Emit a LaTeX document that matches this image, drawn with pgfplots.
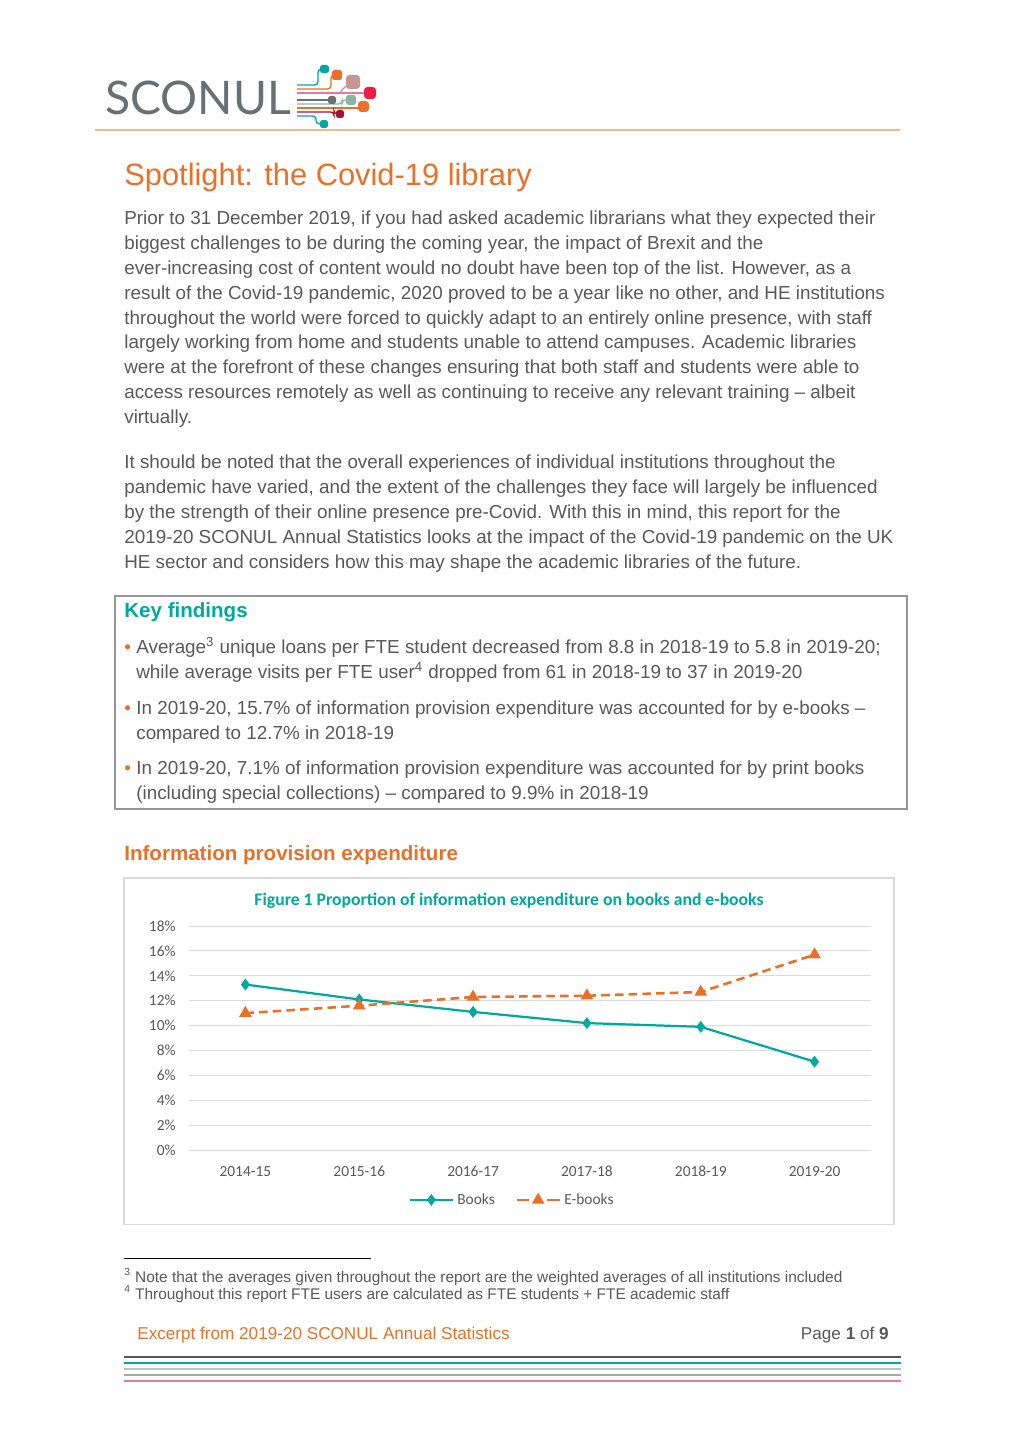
\documentclass[border=0pt]{standalone}
\usepackage{fontspec}
\setmainfont{Liberation Sans}
\newfontfamily\carlito{Carlito}
\newfontfamily\lato{Lato}
\usepackage{pgfplots}
\pgfplotsset{compat=1.18}
\pgfplotsset{ebookleg/.style={legend image code/.code={\draw[##1,solid,mark=none] (0cm,0cm)--(0.25cm,0cm); \draw[##1,solid,mark=none] (0.63cm,0cm)--(0.88cm,0cm); \draw[##1] plot coordinates {(0.44cm,0cm)};}}}
\definecolor{tealc}{RGB}{0,169,157}
\definecolor{orng}{RGB}{232,112,40}
\definecolor{bodygray}{RGB}{89,89,89}
\definecolor{gridgray}{RGB}{217,217,217}
\definecolor{logogray}{RGB}{108,111,114}
\definecolor{mauve}{RGB}{200,150,145}
\definecolor{redc}{RGB}{232,30,72}
\definecolor{sage}{RGB}{140,180,160}
\definecolor{darkred}{RGB}{160,20,50}
\definecolor{pinkc}{RGB}{232,120,150}
\definecolor{rulegray}{RGB}{150,150,150}
\newcommand\bl[3]{\node[anchor=base west,inner sep=0pt,text=bodygray,font=\fontsize{11}{13}\selectfont] at (#1,#2) {#3};}
\begin{document}
\begin{tikzpicture}[x=0.5836pt,y=-0.5836pt]
\useasboundingbox (0,0) rectangle (1020,1442);
\fill[white] (0,0) rectangle (1020,1442);
% logo
\node[anchor=base west,inner sep=0pt,font=\lato\fontsize{27}{30}\selectfont,text=logogray] at (105,115) {SCONUL};
\begin{scope}[line width=0.8pt,rounded corners=2pt]
\draw[tealc] (297,85)--(318,85)--(318,69)--(322,69);
\draw[orng] (297,89)--(331,89)--(331,75)--(334,75);
\draw[pinkc] (297,93)--(366,93);
\draw[mauve] (340,93)--(345,86)--(348,86);
\draw[logogray] (297,100)--(328,100);
\draw[sage] (297,104)--(342,104)--(342,100)--(346,100);
\draw[orng] (297,108)--(360,108);
\draw[darkred] (297,112)--(334,112)--(334,114)--(337,114);
\draw[tealc] (297,116)--(316,116)--(316,124)--(320,124);
\end{scope}
\fill[tealc,rounded corners=1.5pt] (320,65) rectangle (329,73);
\fill[orng,rounded corners=1.5pt] (332,70) rectangle (342,80);
\fill[mauve,rounded corners=2pt] (346,75) rectangle (360,89);
\fill[redc,rounded corners=2pt] (364,87) rectangle (376,99);
\fill[logogray,rounded corners=1.5pt] (328,96) rectangle (336,104);
\fill[sage,rounded corners=1.5pt] (346,95) rectangle (356,105);
\fill[orng,rounded corners=2pt] (358,101) rectangle (369,112);
\fill[darkred,rounded corners=1.5pt] (336,110) rectangle (344,118);
\fill[tealc,rounded corners=1.5pt] (320,120) rectangle (328,128);
\draw[orng!50,line width=0.6pt] (95,130)--(900,130);
% heading
\node[anchor=base west,inner sep=0pt,text=orng,font=\fontsize{18}{20}\selectfont] at (124,185) {Spotlight: the Covid-19 library};
% paragraph 1
\bl{124}{224}{Prior to 31 December 2019, if you had asked academic librarians what they expected their}
\bl{124}{249}{biggest challenges to be during the coming year, the impact of Brexit and the}
\bl{124}{274}{ever-increasing cost of content would no doubt have been top of the list. However, as a}
\bl{124}{299}{result of the Covid-19 pandemic, 2020 proved to be a year like no other, and HE institutions}
\bl{124}{324}{throughout the world were forced to quickly adapt to an entirely online presence, with staff}
\bl{124}{348}{largely working from home and students unable to attend campuses. Academic libraries}
\bl{124}{373}{were at the forefront of these changes ensuring that both staff and students were able to}
\bl{124}{398}{access resources remotely as well as continuing to receive any relevant training – albeit}
\bl{124}{423}{virtually.}
% paragraph 2
\bl{124}{468}{It should be noted that the overall experiences of individual institutions throughout the}
\bl{124}{493}{pandemic have varied, and the extent of the challenges they face will largely be influenced}
\bl{124}{518}{by the strength of their online presence pre-Covid. With this in mind, this report for the}
\bl{124}{543}{2019-20 SCONUL Annual Statistics looks at the impact of the Covid-19 pandemic on the UK}
\bl{124}{568}{HE sector and considers how this may shape the academic libraries of the future.}
% key findings box
\draw[rulegray,line width=0.6pt] (115,596) rectangle (907,809);
\node[anchor=base west,inner sep=0pt,text=tealc,font=\bfseries\fontsize{12}{14}\selectfont] at (124,617) {Key findings};
\foreach \yy in {653,714,774} {\node[anchor=base west,inner sep=0pt,text=orng,font=\fontsize{11}{13}\selectfont] at (124,\yy) {•};}
\bl{136}{653}{Average\textsuperscript{3} unique loans per FTE student decreased from 8.8 in 2018-19 to 5.8 in 2019-20;}
\bl{136}{678}{while average visits per FTE user\textsuperscript{4} dropped from 61 in 2018-19 to 37 in 2019-20}
\bl{136}{714}{In 2019-20, 15.7\% of information provision expenditure was accounted for by e-books –}
\bl{136}{739}{compared to 12.7\% in 2018-19}
\bl{136}{774}{In 2019-20, 7.1\% of information provision expenditure was accounted for by print books}
\bl{136}{799}{(including special collections) – compared to 9.9\% in 2018-19}
% section heading
\node[anchor=base west,inner sep=0pt,text=orng,font=\bfseries\fontsize{12}{14}\selectfont] at (124,860) {Information provision expenditure};
% chart frame
\draw[gridgray,line width=0.6pt] (124,878) rectangle (894,1224);
\node[anchor=base,inner sep=0pt,text=tealc,font=\carlito\bfseries\fontsize{10.3}{12}\selectfont] at (509,905) {Figure 1 Proportion of information expenditure on books and e-books};
\coordinate (axorigin) at (188.5,1150);
\begin{axis}[at={(axorigin)},anchor=south west,scale only axis,
  width=398.6pt,height=130.7pt,
  xmin=-0.5,xmax=5.5,ymin=0,ymax=18,
  axis line style={draw=none},
  major tick length=0pt,
  ymajorgrids, grid style={gridgray,line width=0.6pt},
  xtick={0,1,2,3,4,5},
  xticklabels={2014-15,2015-16,2016-17,2017-18,2018-19,2019-20},
  ytick={0,2,4,6,8,10,12,14,16,18},
  yticklabels={0\%,2\%,4\%,6\%,8\%,10\%,12\%,14\%,16\%,18\%},
  ticklabel style={font=\carlito\fontsize{9}{11}\selectfont,text=bodygray},
  yticklabel style={xshift=-4pt},
  xticklabel style={yshift=-6pt},
  clip=false,
  legend style={at={(0.475,-0.223)},anchor=center,draw=none,fill=none,
    legend columns=2,font=\carlito\fontsize{9}{11}\selectfont,text=bodygray,
    /tikz/every even column/.append style={column sep=10pt}},
  legend image code/.code={\draw[mark repeat=2,mark phase=2,#1] plot coordinates {(0cm,0cm)(0.44cm,0cm)(0.88cm,0cm)};},
]
\addplot[tealc,line width=1.3pt,mark=diamond*,mark size=2.4pt,mark options={solid}] coordinates {(0,13.3)(1,12.1)(2,11.1)(3,10.2)(4,9.9)(5,7.1)};
\addlegendentry{Books}
\addplot[orng,line width=1.5pt,dash pattern=on 5pt off 3pt,mark=triangle*,mark size=2.8pt,mark options={solid},ebookleg] coordinates {(0,11.0)(1,11.6)(2,12.3)(3,12.4)(4,12.7)(5,15.7)};
\addlegendentry{E-books}
\end{axis}
% footnotes
\draw[black,line width=0.4pt] (124,1258)--(371,1258);
\node[anchor=base west,inner sep=0pt,text=bodygray,font=\fontsize{9}{11}\selectfont] at (124,1282) {\textsuperscript{3} Note that the averages given throughout the report are the weighted averages of all institutions included};
\node[anchor=base west,inner sep=0pt,text=bodygray,font=\fontsize{9}{11}\selectfont] at (124,1299) {\textsuperscript{4} Throughout this report FTE users are calculated as FTE students + FTE academic staff};
% footer
\node[anchor=base west,inner sep=0pt,text=orng,font=\fontsize{10}{12}\selectfont] at (137,1339) {Excerpt from 2019-20 SCONUL Annual Statistics};
\node[anchor=base east,inner sep=0pt,text=bodygray,font=\fontsize{10}{12}\selectfont] at (889,1339) {Page \textbf{1} of \textbf{9}};
\draw[logogray!80!black,line width=1.4pt] (124,1357)--(901,1357);
\draw[tealc,line width=0.9pt] (124,1363)--(901,1363);
\draw[sage!70!gray!60,line width=0.9pt] (124,1369)--(901,1369);
\draw[gray!70,line width=0.9pt] (124,1375)--(901,1375);
\draw[pinkc,line width=0.9pt] (124,1381)--(901,1381);
\end{tikzpicture}
\end{document}
